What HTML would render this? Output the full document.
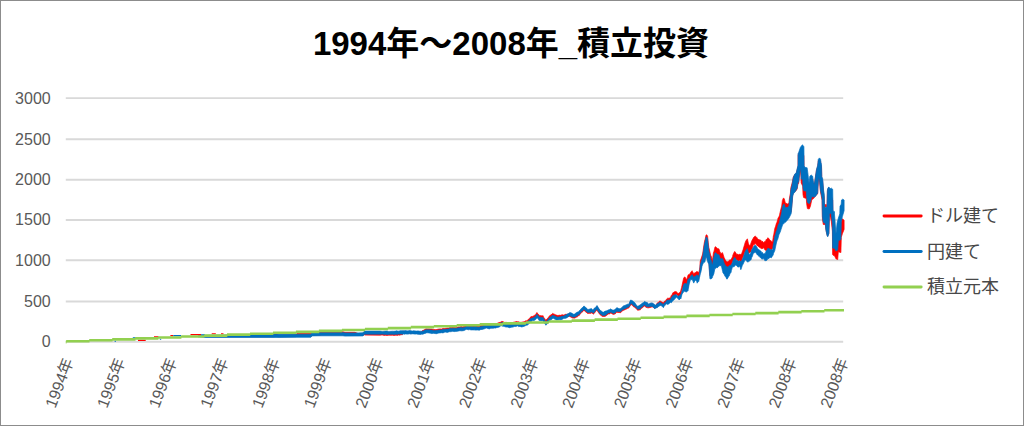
<!DOCTYPE html>
<html lang="ja">
<head>
<meta charset="utf-8">
<title>1994年～2008年_積立投資</title>
<style>
html,body{margin:0;padding:0;background:#fff;font-family:"Liberation Sans",sans-serif;}
body{width:1024px;height:426px;overflow:hidden;}
svg{display:block;}
</style>
</head>
<body>
<svg width="1024" height="426" viewBox="0 0 1024 426" role="img" aria-label="1994年～2008年_積立投資">
<title>1994年～2008年_積立投資</title>
<rect x="0" y="0" width="1024" height="426" fill="#fff"/>
<path d="M65.8 341.80H843.2M65.8 301.45H843.2M65.8 260.20H843.2M65.8 219.95H843.2M65.8 179.70H843.2M65.8 139.30H843.2M65.8 98.15H843.2" stroke="#D9D9D9" stroke-width="1.90" fill="none"/>
<g aria-label="ドル建て">
<path d="M198.0 336.5L200.0 336.1L206.0 335.9L274.0 334.9L275.0 333.4L277.0 333.4L278.0 334.9L280.0 334.9L296.0 334.8L297.0 333.3L310.0 333.3L311.0 333.4L312.0 332.2L320.0 332.2L321.0 331.8L342.0 331.8L343.0 331.8L345.0 332.3L355.0 332.3L358.0 333.5L363.0 333.4L364.5 331.7L365.0 332.0L380.0 332.1L381.4 332.2L382.8 332.4L384.2 332.1L385.6 332.0L387.0 332.0L388.4 332.3L389.8 332.4L391.2 332.2L392.6 332.2L394.0 332.3L395.4 332.1L396.8 331.8L397.6 332.1L398.2 332.2L399.6 331.9L400.0 331.7L401.0 331.6L402.4 331.3L403.8 331.3L405.0 331.4L405.2 331.2L406.6 331.4L408.0 331.5L409.4 331.2L410.8 331.3L412.2 331.7L413.6 331.4L415.0 331.5L416.4 331.7L417.8 331.5L419.2 331.7L420.0 332.0L420.6 331.8L421.1 331.9L422.0 330.9L423.4 330.3L424.8 329.5L425.0 329.2L426.2 328.9L427.0 328.8L427.6 328.9L429.0 328.9L430.4 329.0L431.8 329.1L433.2 329.5L434.6 329.5L435.2 329.6L436.0 329.7L437.4 329.3L438.8 329.0L440.2 328.9L441.6 329.0L443.0 328.4L444.4 328.5L445.8 328.3L447.2 328.1L448.6 328.0L450.0 327.5L450.4 327.3L451.4 327.5L452.8 327.3L454.2 327.5L455.6 327.4L457.0 327.3L458.4 326.9L459.8 326.9L461.2 326.6L462.2 326.7L462.6 326.9L464.0 326.5L465.4 326.1L466.8 325.3L466.9 325.2L468.2 325.5L469.6 325.7L471.0 325.7L472.4 325.5L473.8 326.0L473.9 325.9L475.2 325.6L476.6 325.8L478.0 326.2L479.4 325.9L479.8 326.1L480.8 325.4L482.2 325.5L483.6 324.6L485.0 324.7L485.7 324.1L486.4 324.0L487.8 324.6L489.2 324.4L490.0 324.4L490.6 324.6L492.0 324.1L493.4 323.9L494.8 323.7L495.9 323.5L496.2 323.6L497.6 323.2L499.0 322.6L500.0 322.3L500.4 322.2L501.7 321.6L501.8 321.3L503.2 321.7L504.6 322.4L505.0 322.2L506.0 322.6L506.4 322.4L507.4 322.6L508.8 323.2L510.0 323.3L510.2 323.4L511.6 322.9L513.0 322.4L514.4 322.0L515.8 321.7L517.0 321.5L517.2 321.7L518.6 321.8L520.0 322.4L521.4 322.2L521.7 322.3L522.8 321.9L524.2 321.8L525.6 320.8L526.0 321.0L527.0 320.7L527.6 319.9L528.4 319.3L529.8 318.3L530.0 317.5L531.1 316.8L531.2 316.5L532.6 316.4L534.0 315.7L535.2 314.9L535.4 315.1L536.8 312.5L537.0 312.8L538.2 313.9L539.3 315.4L539.6 315.6L541.0 315.7L542.4 316.0L542.8 315.5L543.8 317.4L545.2 319.2L545.8 320.6L546.6 319.2L548.0 318.0L549.4 316.0L549.9 315.4L550.8 315.0L552.2 314.0L552.8 313.3L553.6 314.0L555.0 314.4L555.8 314.9L556.4 315.1L557.8 315.5L559.2 315.3L560.0 315.1L560.4 315.1L560.6 315.5L562.0 314.7L563.4 315.1L564.8 314.7L565.0 314.4L565.1 314.3L566.2 314.3L567.6 314.4L568.0 314.5L569.0 313.8L569.8 313.0L570.4 313.4L571.0 314.0L571.8 314.1L573.2 315.2L574.5 315.1L574.6 315.0L576.0 313.9L577.4 313.1L578.8 312.8L579.2 311.8L580.2 310.9L581.6 309.2L583.0 308.2L583.9 307.0L584.4 307.3L585.8 308.6L587.2 309.8L587.5 310.4L588.6 310.4L590.0 310.0L591.0 309.7L591.4 309.6L592.8 310.9L593.3 310.9L594.2 309.2L595.6 308.4L596.8 306.8L597.0 306.5L598.4 308.8L599.8 311.0L601.2 311.9L602.6 313.0L603.4 313.3L604.0 312.8L605.4 312.1L606.8 311.8L607.2 311.6L608.2 311.0L609.6 310.6L610.4 309.9L611.0 310.3L612.4 311.0L613.5 310.9L613.8 311.3L615.2 310.2L616.6 308.9L617.0 308.6L618.0 309.3L619.4 309.7L620.0 309.5L620.8 309.4L622.2 308.2L623.6 306.7L624.7 306.5L625.0 306.4L626.4 305.7L627.8 305.2L628.2 305.5L629.2 304.2L630.6 301.0L631.1 301.2L632.0 301.5L633.4 302.5L634.0 303.0L634.8 303.7L636.2 306.0L637.6 307.2L639.0 306.8L640.4 305.6L640.5 305.9L641.8 304.4L643.2 303.8L644.6 302.4L646.0 303.3L647.4 303.6L648.1 304.9L648.8 304.9L650.0 304.6L650.2 304.0L651.6 304.2L651.7 303.4L653.0 304.1L654.4 304.9L655.0 305.5L655.2 305.6L655.8 305.5L657.2 303.1L658.6 302.3L659.9 300.8L660.0 301.2L661.4 301.7L662.8 302.6L663.4 303.0L664.2 301.5L665.6 300.7L666.7 298.9L667.6 298.2L669.1 298.3L670.5 297.4L671.4 295.3L672.0 294.7L673.0 292.5L673.4 292.5L674.9 291.6L675.3 291.5L676.3 291.7L677.7 293.0L677.8 294.0L679.2 292.8L680.0 292.4L680.7 291.0L681.6 287.5L682.1 285.1L683.6 278.3L683.9 277.6L685.0 276.9L685.5 277.9L686.5 279.4L686.6 280.3L687.9 275.5L688.2 274.8L689.4 274.5L690.2 273.2L690.8 272.2L692.1 270.7L692.3 271.2L693.7 273.7L695.2 272.6L695.6 272.5L696.6 271.5L697.2 271.8L698.1 271.8L698.8 273.3L699.5 269.4L699.9 267.0L700.2 261.5L701.0 258.9L702.4 254.8L702.5 255.0L703.9 245.3L704.5 241.6L705.3 238.6L706.0 235.1L706.8 234.8L707.6 236.2L708.2 242.2L708.8 247.3L709.7 251.0L710.7 255.6L711.1 255.8L712.3 260.7L712.6 259.4L713.4 253.0L714.0 251.2L715.0 246.9L715.5 246.7L716.9 247.9L717.0 248.6L718.4 248.8L718.9 248.8L719.8 251.6L720.9 253.4L721.3 253.4L722.4 252.6L722.7 253.2L724.2 257.8L724.4 258.0L725.6 260.8L725.9 260.6L727.1 261.9L728.3 261.6L728.5 261.0L730.0 259.8L730.6 260.1L731.4 259.0L732.6 256.5L732.9 255.0L734.3 251.9L734.9 251.4L735.8 253.0L736.9 254.6L737.2 254.1L738.7 254.8L739.2 254.3L740.1 254.2L740.8 254.6L741.6 253.7L743.0 249.9L743.1 249.6L744.5 244.8L745.1 242.7L745.9 240.8L747.4 238.8L748.6 244.5L748.8 244.3L749.8 245.9L750.3 244.9L750.6 244.2L751.7 241.1L751.8 240.8L753.2 238.3L753.5 237.6L754.6 236.4L755.3 236.2L756.1 236.7L756.8 237.4L757.5 238.7L758.2 239.0L759.0 240.1L759.4 239.8L760.4 240.1L760.9 240.2L761.9 241.9L762.3 241.1L763.3 242.5L764.1 242.2L764.8 241.4L765.3 242.1L766.2 239.4L766.4 239.5L767.6 238.3L767.7 237.8L769.1 238.7L769.4 239.4L770.6 240.6L771.1 240.9L772.0 241.7L772.6 241.7L773.4 235.8L773.5 236.3L774.4 230.6L774.9 228.1L775.6 226.2L776.3 223.7L776.4 224.1L777.8 219.3L777.9 218.4L779.3 216.0L779.6 214.6L780.7 209.8L781.7 206.1L782.4 200.4L783.5 197.9L784.4 199.1L785.3 203.0L787.6 203.9L788.9 203.3L789.5 197.9L790.4 193.2L790.7 189.4L791.0 187.1L791.9 184.0L792.5 181.2L793.3 177.1L794.8 174.5L796.3 173.3L797.2 169.5L798.0 166.5L798.1 154.8L798.6 154.1L799.5 151.8L800.4 150.2L802.4 152.2L803.3 154.6L803.9 155.9L804.1 174.1L804.8 175.7L806.8 175.8L807.1 175.6L808.0 181.3L808.6 186.8L809.1 190.4L809.8 182.3L811.2 179.5L812.7 179.0L813.0 182.3L814.2 185.6L815.1 179.9L815.4 177.6L816.5 170.0L817.7 166.3L818.0 163.4L818.3 160.6L819.5 159.6L820.6 161.4L820.9 164.5L821.5 166.8L821.8 179.1L822.7 181.6L823.6 193.2L824.2 196.9L824.6 209.1L827.0 207.8L827.4 190.9L828.0 188.4L828.9 187.6L830.0 192.9L831.5 196.5L832.7 200.1L833.0 219.9L833.9 223.4L834.2 221.8L835.0 230.2L835.9 243.7L837.1 234.7L838.3 231.9L839.8 229.2L840.0 222.8L841.2 222.1L841.5 218.7L842.7 218.9L844.1 220.3L844.1 229.4L842.4 233.7L841.3 237.3L840.9 252.6L838.3 251.8L837.7 259.6L835.9 258.8L834.7 256.0L833.2 255.3L832.7 254.7L832.6 254.6L832.4 231.0L831.2 220.5L830.3 217.1L829.4 215.5L828.9 233.1L827.7 236.2L827.1 235.1L825.9 229.5L825.3 224.4L823.3 224.5L822.4 218.6L822.1 200.4L821.2 195.5L820.4 191.3L819.6 182.1L818.6 178.3L817.9 188.5L817.7 193.8L815.4 195.9L813.6 198.5L811.8 199.7L810.4 206.3L809.2 209.0L807.4 208.6L806.6 203.4L806.3 198.5L803.6 197.5L803.0 194.6L802.7 186.1L801.2 183.0L801.0 177.1L800.4 169.7L799.3 177.0L798.6 183.5L798.0 183.3L797.2 188.8L796.3 190.4L794.8 191.8L793.4 193.1L792.7 195.3L792.1 202.5L791.2 211.7L790.4 213.1L788.9 215.4L786.0 218.3L784.5 218.2L782.6 219.2L780.8 224.0L780.7 224.6L779.3 227.7L778.9 228.3L777.8 232.5L777.0 234.0L776.4 236.1L775.1 242.1L774.9 243.4L773.5 246.3L773.2 247.6L772.0 249.1L771.4 250.0L770.6 249.2L769.1 249.0L769.0 249.7L767.7 249.1L767.0 250.4L766.2 250.5L764.8 249.9L764.6 249.1L763.3 247.8L761.9 249.0L761.0 247.7L760.4 248.1L759.0 246.9L757.5 245.8L757.3 245.9L756.5 245.0L756.1 244.3L755.0 243.3L754.6 244.5L753.5 244.7L753.2 245.3L752.3 248.2L751.7 249.3L750.9 252.0L750.3 252.0L748.8 253.4L748.2 253.6L747.4 253.8L745.9 251.6L744.7 252.0L744.5 253.1L743.0 257.0L742.3 258.5L741.6 261.0L740.8 263.4L740.1 260.9L739.6 259.9L738.7 260.9L737.7 261.2L737.2 260.1L735.8 259.4L735.3 259.8L734.3 261.3L732.9 261.6L732.6 261.2L731.4 265.6L731.0 267.6L730.0 269.0L729.1 271.7L728.5 272.1L727.1 274.8L726.7 274.6L725.6 271.9L725.2 272.1L724.2 269.9L722.8 267.6L722.7 266.9L721.3 260.3L719.8 260.8L719.3 260.4L718.4 261.7L717.0 263.0L716.9 262.3L715.5 263.7L715.0 262.9L714.0 268.4L713.8 269.6L712.6 272.6L712.3 273.9L711.1 275.6L709.9 275.9L709.7 272.7L708.8 260.9L708.2 260.7L706.8 256.7L706.2 254.1L705.7 256.0L705.3 257.1L704.9 260.1L703.9 259.9L703.4 260.4L702.4 262.0L701.9 263.7L701.0 268.5L700.4 270.3L699.5 274.3L698.9 277.7L698.8 278.4L698.1 278.5L697.2 280.1L696.6 278.0L695.6 277.0L695.2 276.9L693.7 279.8L692.5 276.5L692.3 276.2L690.8 275.8L690.2 277.1L689.4 279.8L689.0 281.5L687.9 287.6L687.8 287.2L686.5 288.1L686.3 288.0L685.0 286.0L683.9 284.9L683.6 286.2L682.3 288.7L682.1 289.0L680.8 295.3L680.7 294.5L679.2 297.4L677.8 295.5L676.9 294.7L676.3 294.3L674.9 295.7L673.8 297.4L673.4 297.8L672.0 299.7L671.4 300.8L670.5 300.3L669.1 302.0L667.6 303.0L666.7 302.1L665.6 303.1L664.2 304.7L663.4 306.3L662.8 305.7L661.4 304.4L660.0 304.1L659.9 304.5L658.6 305.7L657.2 307.1L655.8 307.3L655.2 307.9L655.0 308.4L654.4 307.9L653.0 307.1L651.7 306.9L651.6 307.1L650.2 307.4L650.0 307.3L648.8 308.0L648.1 307.5L647.4 307.8L646.0 307.3L644.6 306.0L643.2 307.0L641.8 308.3L640.5 308.8L640.4 309.8L639.0 310.0L637.6 310.3L636.2 308.5L634.8 307.5L634.0 306.8L633.4 306.7L632.0 304.7L631.1 304.8L630.6 304.9L629.2 307.5L628.2 308.2L627.8 308.2L626.4 309.1L625.0 309.4L624.7 309.9L623.6 310.3L622.2 311.1L620.8 312.4L620.0 313.0L619.4 312.5L618.0 312.5L617.0 312.2L616.6 312.2L615.2 313.9L613.8 314.2L613.5 314.5L612.4 314.0L611.0 313.1L610.4 313.3L609.6 313.9L608.2 313.9L607.2 315.1L606.8 315.2L605.4 316.2L604.0 316.5L603.4 316.5L602.6 316.5L601.2 315.6L599.8 314.4L598.4 312.5L597.0 310.3L596.8 310.3L595.6 311.5L594.2 313.4L593.3 314.2L592.8 313.5L591.4 312.9L591.0 313.3L590.0 313.3L588.6 313.4L587.5 313.4L587.2 312.9L585.8 312.0L584.4 310.7L583.9 310.5L583.0 311.4L581.6 312.6L580.2 314.0L579.2 315.6L578.8 315.5L577.4 316.8L576.0 317.3L574.6 318.2L574.5 318.1L573.2 318.1L571.8 317.8L571.0 317.0L570.4 317.1L569.8 316.2L569.0 316.5L568.0 316.4L567.6 316.7L566.2 317.5L565.1 317.5L565.0 317.8L564.8 317.5L563.4 317.5L562.0 318.1L560.6 318.4L560.4 318.0L560.0 318.0L559.2 318.1L557.8 318.2L556.4 318.2L555.8 318.1L555.0 317.6L553.6 316.8L552.8 316.2L552.2 317.4L550.8 318.0L549.9 319.1L549.4 319.7L548.0 321.3L546.6 322.9L545.8 323.5L545.2 322.3L543.8 320.6L542.8 319.2L542.4 318.7L541.0 319.2L539.6 318.6L539.3 319.1L538.2 317.1L537.0 316.1L536.8 316.4L535.4 318.1L535.2 318.2L534.0 318.7L532.6 318.9L531.2 319.7L531.1 319.7L530.0 320.8L529.8 321.3L528.4 322.4L527.6 323.6L527.0 323.8L526.0 323.7L525.6 324.3L524.2 325.0L522.8 325.3L521.7 325.5L521.4 325.6L520.0 325.0L518.6 325.2L517.2 324.4L517.0 324.8L515.8 325.1L514.4 325.2L513.0 325.7L511.6 325.9L510.2 326.2L510.0 326.5L508.8 326.1L507.4 325.8L506.4 325.8L506.0 325.8L505.0 325.4L504.6 325.4L503.2 325.0L501.8 325.0L501.7 324.5L500.4 324.9L500.0 325.5L499.0 326.1L497.6 326.5L496.2 326.7L495.9 327.1L494.8 326.9L493.4 327.2L492.0 327.2L490.6 327.3L490.0 327.8L489.2 327.8L487.8 327.5L486.4 327.0L485.7 327.3L485.0 327.6L483.6 328.1L482.2 328.5L480.8 328.6L479.8 328.9L479.4 329.3L478.0 329.0L476.6 329.2L475.2 329.1L473.9 328.9L473.8 329.0L472.4 328.9L471.0 328.9L469.6 328.6L468.2 328.8L466.9 328.3L466.8 328.4L465.4 328.9L464.0 329.6L462.6 329.8L462.2 330.0L461.2 329.8L459.8 329.8L458.4 330.1L457.0 330.4L455.6 330.5L454.2 330.7L452.8 330.3L451.4 330.7L450.4 330.8L450.0 330.6L448.6 331.0L447.2 331.4L445.8 331.2L444.4 331.4L443.0 332.0L441.6 331.8L440.2 332.0L438.8 332.1L437.4 332.5L436.0 332.9L435.2 332.5L434.6 332.6L433.2 332.4L431.8 332.6L430.4 332.3L429.0 332.0L427.6 331.9L427.0 331.9L426.2 332.0L425.0 332.6L424.8 332.6L423.4 333.3L422.0 333.7L421.1 333.5L420.6 333.8L420.0 333.8L419.2 333.7L417.8 333.6L416.4 333.4L415.0 333.5L413.6 333.3L412.2 333.2L410.8 333.5L409.4 333.2L408.0 333.5L406.6 333.5L405.2 333.3L405.0 333.6L403.8 333.3L402.4 334.7L401.0 334.7L400.0 335.1L399.6 335.2L398.2 335.0L397.6 335.4L396.8 335.3L395.4 335.3L394.0 335.4L392.6 335.2L391.2 335.3L389.8 335.2L388.4 335.3L387.0 335.4L385.6 335.3L384.2 335.4L382.8 335.1L381.4 335.1L380.0 335.2L365.0 335.1L364.5 334.8L363.0 335.3L358.0 335.4L355.0 335.4L345.0 335.4L343.0 334.9L342.0 334.9L321.0 334.9L320.0 335.2L312.0 335.2L311.0 336.6L310.0 336.4L297.0 336.4L296.0 336.7L280.0 336.8L278.0 336.8L277.0 336.5L275.0 336.5L274.0 336.8L206.0 336.8L200.0 336.4L198.0 336.1Z" fill="#FF0000" stroke="#FF0000" stroke-width="0.70" stroke-linejoin="round"/>
<path d="M825.1 204.6L826.5 204.6L826.5 207.0L825.1 207.0Z" fill="#FF0000" stroke="#FF0000" stroke-width="0.50" stroke-linejoin="round"/>
<path d="M813.9 183.2L814.6 183.2L814.6 185.0L813.9 185.0Z" fill="#FF0000" stroke="#FF0000" stroke-width="0.50" stroke-linejoin="round"/>
</g>
<g aria-label="円建て">
<path d="M198.0 335.9L200.0 335.5L206.0 335.3L274.0 334.3L275.0 334.3L277.0 334.3L278.0 334.3L280.0 334.2L296.0 334.2L297.0 334.2L310.0 334.2L311.0 334.1L312.0 332.8L320.0 332.7L321.0 332.7L342.0 332.7L343.0 332.6L345.0 332.9L355.0 332.9L358.0 332.9L363.0 332.8L364.5 331.1L365.0 331.1L380.0 331.1L381.4 331.3L382.8 331.4L384.2 331.2L385.6 331.1L387.0 331.0L388.4 331.4L389.8 331.4L391.2 331.3L392.6 331.2L394.0 331.3L395.4 331.1L396.8 330.8L397.6 331.1L398.2 331.2L399.6 330.9L400.0 330.7L401.0 330.8L402.4 330.7L403.8 330.7L405.0 330.8L405.2 330.6L406.6 330.8L408.0 330.9L409.4 330.6L410.8 330.7L412.2 331.1L413.6 330.8L415.0 330.9L416.4 331.1L417.8 330.9L419.2 331.1L420.0 331.4L420.6 331.2L421.1 331.3L422.0 331.2L423.4 330.9L424.8 330.3L425.0 330.1L426.2 329.8L427.0 329.7L427.6 329.8L429.0 329.8L430.4 329.9L431.8 330.0L433.2 330.4L434.6 330.4L435.2 330.5L436.0 330.6L437.4 330.3L438.8 329.9L440.2 329.9L441.6 329.9L443.0 329.3L444.4 329.4L445.8 329.3L447.2 329.0L448.6 329.0L450.0 328.4L450.4 328.3L451.4 328.4L452.8 328.2L454.2 328.4L455.6 328.3L457.0 328.2L458.4 327.8L459.8 327.8L461.2 327.5L462.2 327.6L462.6 327.9L464.0 327.5L465.4 327.1L466.8 326.2L466.9 326.2L468.2 326.5L469.6 326.7L471.0 326.7L472.4 326.4L473.8 327.0L473.9 326.9L475.2 326.6L476.6 326.7L478.0 327.2L479.4 326.9L479.8 327.1L480.8 326.4L482.2 326.5L483.6 325.6L485.0 325.7L485.7 325.1L486.4 325.0L487.8 325.6L489.2 325.4L490.0 325.4L490.6 325.6L492.0 325.1L493.4 324.9L494.8 324.7L495.9 324.5L496.2 324.6L497.6 324.2L499.0 323.6L500.0 323.3L500.4 323.2L501.7 322.7L501.8 322.4L503.2 322.9L504.6 323.6L505.0 323.5L506.0 323.9L506.4 323.7L507.4 324.0L508.8 324.5L510.0 324.6L510.2 324.8L511.6 324.2L513.0 323.8L514.4 323.4L515.8 323.0L517.0 322.9L517.2 323.1L518.6 323.2L520.0 323.7L521.4 323.6L521.7 323.7L522.8 323.2L524.2 323.2L525.6 322.2L526.0 322.4L527.0 322.2L527.6 321.5L528.4 320.8L529.8 320.0L530.0 319.2L531.1 318.5L531.2 318.2L532.6 318.1L534.0 317.4L535.2 316.6L535.4 316.8L536.8 314.2L537.0 314.5L538.2 315.6L539.3 317.1L539.6 317.3L541.0 317.4L542.4 317.7L542.8 317.2L543.8 319.1L545.2 320.9L545.8 322.3L546.6 320.9L548.0 319.7L549.4 317.7L549.9 317.1L550.8 316.7L552.2 315.7L552.8 315.0L553.6 315.7L555.0 316.1L555.8 316.6L556.4 316.8L557.8 317.2L559.2 317.0L560.0 316.8L560.4 316.7L560.6 317.1L562.0 316.1L563.4 316.2L564.8 315.5L565.0 315.2L565.1 315.1L566.2 314.8L567.6 313.8L568.0 313.9L569.0 313.2L569.8 312.4L570.4 312.6L571.0 313.0L571.8 313.1L573.2 314.2L574.5 314.1L574.6 314.0L576.0 312.9L577.4 312.1L578.8 311.8L579.2 310.8L580.2 309.9L581.6 308.2L583.0 307.2L583.9 306.0L584.4 306.3L585.8 307.6L587.2 308.8L587.5 309.4L588.6 309.4L590.0 309.0L591.0 308.7L591.4 308.6L592.8 309.9L593.3 309.9L594.2 308.2L595.6 307.4L596.8 305.8L597.0 305.5L598.4 307.8L599.8 310.0L601.2 310.9L602.6 312.0L603.4 312.3L604.0 311.8L605.4 311.1L606.8 310.8L607.2 310.6L608.2 310.0L609.6 309.6L610.4 308.9L611.0 309.3L612.4 310.0L613.5 309.9L613.8 310.3L615.2 309.2L616.6 307.9L617.0 307.6L618.0 308.3L619.4 308.7L620.0 308.5L620.8 308.4L622.2 307.2L623.6 305.7L624.7 305.5L625.0 305.4L626.4 304.7L627.8 304.2L628.2 304.5L629.2 303.2L630.6 300.0L631.1 300.2L632.0 300.5L633.4 301.5L634.0 302.0L634.8 302.7L636.2 305.0L637.6 306.2L639.0 305.8L640.4 304.6L640.5 304.9L641.8 303.4L643.2 302.8L644.6 301.4L646.0 302.3L647.4 302.6L648.1 303.9L648.8 303.9L650.0 303.6L650.2 303.0L651.6 303.5L651.7 302.7L653.0 303.5L654.4 304.3L655.0 304.9L655.2 305.0L655.8 304.9L657.2 303.7L658.6 303.2L659.9 301.9L660.0 302.4L661.4 303.0L662.8 304.0L663.4 304.4L664.2 303.0L665.6 302.2L666.7 300.5L667.6 300.0L669.1 300.2L670.5 299.4L671.4 297.5L672.0 297.1L673.0 295.3L673.4 295.4L674.9 294.8L675.3 294.8L676.3 294.8L677.7 296.0L677.8 296.8L679.2 295.6L680.0 295.2L680.7 294.7L681.6 292.5L682.1 290.5L683.6 284.8L683.9 284.3L685.0 283.2L685.5 283.6L686.5 284.0L686.6 284.7L687.9 279.6L688.2 279.0L689.4 278.4L690.2 277.1L690.8 276.1L692.1 274.6L692.3 275.0L693.7 277.3L695.2 276.2L695.6 276.0L696.6 275.1L697.2 275.3L698.1 275.3L698.8 276.7L699.5 272.9L699.9 270.5L700.2 265.2L701.0 262.4L702.4 258.0L702.5 258.1L703.9 248.2L704.5 244.3L705.3 240.9L706.0 237.2L706.8 237.3L707.6 239.1L708.2 245.2L708.8 250.5L709.7 254.7L710.7 259.7L711.1 260.2L712.3 265.3L712.6 264.2L713.4 258.3L714.0 256.7L715.0 252.9L715.5 252.7L716.9 253.8L717.0 254.5L718.4 254.7L718.9 254.7L719.8 257.4L720.9 259.1L721.3 259.0L722.4 258.3L722.7 258.9L724.2 263.2L724.4 263.4L725.6 266.0L725.9 265.8L727.1 267.1L728.3 266.8L728.5 266.3L730.0 265.2L730.6 265.4L731.4 264.4L732.6 262.1L732.9 260.7L734.3 257.8L734.9 257.4L735.8 259.1L736.9 260.8L737.2 260.4L738.7 261.3L739.2 261.0L740.1 261.1L740.8 261.6L741.6 261.0L743.0 257.8L743.1 257.5L744.5 253.5L745.1 251.7L745.9 250.2L747.4 248.6L748.6 253.6L748.8 253.4L749.8 254.7L750.3 253.7L750.6 253.0L751.7 250.1L751.8 249.8L753.2 247.4L753.5 246.7L754.6 245.4L755.3 245.3L756.1 246.1L756.8 247.0L757.5 248.4L758.2 248.9L759.0 250.2L759.4 250.1L760.4 250.8L760.9 251.0L761.9 252.9L762.3 252.3L763.3 253.9L764.1 253.9L764.8 253.2L765.3 253.6L766.2 250.7L766.4 250.8L767.6 249.0L767.7 248.5L769.1 248.6L769.4 249.0L770.6 249.6L771.1 249.6L772.0 250.0L772.6 249.7L773.4 243.9L773.5 244.4L774.4 238.7L774.9 236.1L775.6 233.9L776.3 231.3L776.4 231.7L777.8 226.7L777.9 225.8L779.3 223.0L779.6 221.6L780.7 216.6L781.7 212.8L782.4 207.0L783.5 204.2L784.4 204.5L785.3 207.7L787.6 207.3L788.9 206.3L789.5 200.8L790.4 195.8L790.7 191.8L791.0 189.3L791.9 185.7L792.5 182.3L793.3 177.7L794.8 173.9L796.3 172.7L797.2 168.5L798.0 165.3L798.1 153.5L798.6 152.7L799.5 150.0L800.4 147.3L802.4 144.8L803.3 145.7L803.9 146.8L804.1 165.8L804.8 167.3L806.8 167.7L807.1 167.7L808.0 174.2L808.6 180.3L809.1 184.3L809.8 176.3L811.2 175.0L812.7 176.3L813.0 180.0L814.2 184.8L815.1 179.3L815.4 177.0L816.5 169.4L817.7 165.3L818.0 162.3L818.3 159.3L819.5 157.9L820.6 159.3L820.9 162.3L821.5 164.4L821.8 176.7L822.7 178.8L823.6 190.3L824.2 194.2L824.6 207.2L827.0 207.2L827.4 190.3L828.0 187.8L828.9 187.0L830.0 188.8L831.5 188.2L832.7 189.3L833.0 210.0L833.9 213.3L834.2 211.3L835.0 220.2L835.9 234.3L837.1 223.0L838.3 218.3L839.8 213.8L840.0 206.3L841.2 204.2L841.5 200.0L842.7 199.2L844.1 200.0L844.1 210.7L842.4 216.6L841.3 221.7L840.9 239.6L838.3 240.7L837.7 250.1L835.9 251.0L834.7 248.3L833.2 248.2L832.7 248.1L832.6 248.1L832.4 223.1L831.2 214.2L830.3 212.7L829.4 214.2L828.9 233.7L827.7 236.8L827.1 235.7L825.9 230.1L825.3 223.6L823.3 222.3L822.4 216.6L822.1 198.2L821.2 193.6L820.4 189.7L819.6 180.7L818.6 177.2L817.9 187.7L817.7 193.0L815.4 196.5L813.6 197.1L811.8 196.5L810.4 201.8L809.2 203.8L807.4 202.3L806.6 196.5L806.3 191.2L803.6 190.6L803.0 187.7L802.7 179.3L801.2 179.1L801.0 173.5L800.4 167.2L799.3 175.6L798.6 182.2L798.0 182.2L797.2 188.0L796.3 189.8L794.8 192.3L793.4 193.7L792.7 196.2L792.1 203.8L791.2 213.5L790.4 215.3L788.9 218.2L786.0 221.8L784.5 222.8L782.6 224.8L780.8 230.1L780.7 230.7L779.3 234.1L778.9 234.8L777.8 239.1L777.0 240.8L776.4 242.9L775.1 249.0L774.9 250.3L773.5 253.5L773.2 254.9L772.0 256.7L771.4 257.8L770.6 257.4L769.1 257.9L769.0 258.5L767.7 258.7L767.0 260.2L766.2 260.6L764.8 260.7L764.6 260.1L763.3 258.5L761.9 259.2L761.0 257.7L760.4 257.8L759.0 256.3L757.5 254.9L757.3 254.9L756.5 253.8L756.1 253.0L755.0 251.7L754.6 252.8L753.5 253.2L753.2 253.7L752.3 256.5L751.7 257.5L750.9 260.1L750.3 260.2L748.8 261.6L748.2 261.8L747.4 262.1L745.9 260.0L744.7 260.0L744.5 261.0L743.0 264.3L742.3 265.5L741.6 267.7L740.8 269.7L740.1 267.2L739.6 266.2L738.7 267.0L737.7 267.0L737.2 266.0L735.8 265.0L735.3 265.3L734.3 266.6L732.9 266.9L732.6 266.5L731.4 270.6L731.0 272.5L730.0 273.7L729.1 276.2L728.5 276.7L727.1 279.2L726.7 279.0L725.6 276.4L725.2 276.6L724.2 274.5L722.8 272.4L722.7 271.7L721.3 265.5L719.8 265.9L719.3 265.6L718.4 266.8L717.0 268.0L716.9 267.3L715.5 268.6L715.0 267.8L714.0 272.9L713.8 273.9L712.6 276.6L712.3 277.8L711.1 279.0L709.9 278.7L709.7 275.6L708.8 263.7L708.2 263.2L706.8 258.7L706.2 255.9L705.7 257.8L705.3 259.1L704.9 262.1L703.9 262.3L703.4 263.0L702.4 265.0L701.9 266.7L701.0 271.7L700.4 273.5L699.5 277.6L698.9 280.8L698.8 281.5L698.1 281.6L697.2 283.2L696.6 281.3L695.6 280.3L695.2 280.2L693.7 283.1L692.5 280.0L692.3 279.8L690.8 279.5L690.2 280.7L689.4 283.4L689.0 285.1L687.9 291.0L687.8 290.7L686.5 292.1L686.3 292.1L685.0 291.4L683.9 290.9L683.6 291.9L682.3 293.8L682.1 293.9L680.8 298.8L680.7 297.9L679.2 300.0L677.8 298.3L676.9 297.6L676.3 297.3L674.9 298.7L673.8 300.1L673.4 300.3L672.0 301.8L671.4 302.7L670.5 302.2L669.1 303.7L667.6 304.5L666.7 303.7L665.6 304.7L664.2 306.1L663.4 307.7L662.8 307.1L661.4 305.7L660.0 305.3L659.9 305.7L658.6 306.5L657.2 307.7L655.8 307.9L655.2 308.5L655.0 309.0L654.4 308.5L653.0 306.7L651.7 306.2L651.6 306.4L650.2 306.4L650.0 306.3L648.8 307.0L648.1 306.5L647.4 306.8L646.0 306.3L644.6 305.0L643.2 306.0L641.8 307.3L640.5 307.8L640.4 308.8L639.0 309.0L637.6 309.3L636.2 307.5L634.8 306.5L634.0 305.8L633.4 305.7L632.0 303.7L631.1 303.8L630.6 303.9L629.2 306.5L628.2 307.2L627.8 307.2L626.4 308.1L625.0 308.4L624.7 308.9L623.6 309.3L622.2 310.1L620.8 311.4L620.0 312.0L619.4 311.5L618.0 311.5L617.0 311.2L616.6 311.2L615.2 312.9L613.8 313.2L613.5 313.5L612.4 313.0L611.0 312.1L610.4 312.3L609.6 312.9L608.2 312.9L607.2 314.1L606.8 314.2L605.4 315.2L604.0 315.5L603.4 315.5L602.6 315.5L601.2 314.6L599.8 313.4L598.4 311.5L597.0 309.3L596.8 309.3L595.6 310.5L594.2 312.4L593.3 313.2L592.8 312.5L591.4 311.9L591.0 312.3L590.0 312.3L588.6 312.4L587.5 312.4L587.2 311.9L585.8 311.0L584.4 309.7L583.9 309.5L583.0 310.4L581.6 311.6L580.2 313.0L579.2 314.6L578.8 314.5L577.4 315.8L576.0 316.3L574.6 317.2L574.5 317.1L573.2 317.1L571.8 316.8L571.0 316.0L570.4 316.3L569.8 315.6L569.0 316.2L568.0 317.0L567.6 317.3L566.2 318.1L565.1 318.3L565.0 318.6L564.8 318.3L563.4 318.6L562.0 319.4L560.6 320.0L560.4 319.7L560.0 319.7L559.2 319.8L557.8 319.9L556.4 319.9L555.8 319.8L555.0 319.3L553.6 318.5L552.8 317.9L552.2 319.1L550.8 319.7L549.9 320.8L549.4 321.4L548.0 323.0L546.6 324.6L545.8 325.2L545.2 324.0L543.8 322.3L542.8 320.9L542.4 320.4L541.0 320.9L539.6 320.3L539.3 320.8L538.2 318.8L537.0 317.8L536.8 318.1L535.4 319.8L535.2 319.9L534.0 320.4L532.6 320.6L531.2 321.4L531.1 321.4L530.0 322.5L529.8 323.0L528.4 324.0L527.6 325.1L527.0 325.3L526.0 325.1L525.6 325.7L524.2 326.3L522.8 326.7L521.7 326.9L521.4 326.9L520.0 326.4L518.6 326.6L517.2 325.7L517.0 326.1L515.8 326.5L514.4 326.5L513.0 327.0L511.6 327.2L510.2 327.6L510.0 327.8L508.8 327.5L507.4 327.1L506.4 327.1L506.0 327.1L505.0 326.7L504.6 326.6L503.2 326.2L501.8 326.1L501.7 325.6L500.4 326.0L500.0 326.5L499.0 327.1L497.6 327.5L496.2 327.7L495.9 328.1L494.8 327.9L493.4 328.2L492.0 328.2L490.6 328.3L490.0 328.8L489.2 328.8L487.8 328.5L486.4 328.0L485.7 328.3L485.0 328.6L483.6 329.1L482.2 329.5L480.8 329.5L479.8 329.9L479.4 330.3L478.0 329.9L476.6 330.1L475.2 330.1L473.9 329.8L473.8 330.0L472.4 329.9L471.0 329.9L469.6 329.6L468.2 329.8L466.9 329.3L466.8 329.3L465.4 329.8L464.0 330.6L462.6 330.7L462.2 331.0L461.2 330.8L459.8 330.7L458.4 331.1L457.0 331.3L455.6 331.4L454.2 331.6L452.8 331.3L451.4 331.6L450.4 331.7L450.0 331.5L448.6 332.0L447.2 332.4L445.8 332.1L444.4 332.3L443.0 332.9L441.6 332.7L440.2 332.9L438.8 333.0L437.4 333.4L436.0 333.8L435.2 333.5L434.6 333.5L433.2 333.3L431.8 333.6L430.4 333.2L429.0 332.9L427.6 332.8L427.0 332.8L426.2 332.9L425.0 333.5L424.8 333.4L423.4 334.0L422.0 334.3L421.1 334.1L420.6 334.4L420.0 334.4L419.2 334.3L417.8 334.2L416.4 334.0L415.0 334.1L413.6 333.9L412.2 333.8L410.8 334.1L409.4 333.8L408.0 334.1L406.6 334.1L405.2 333.9L405.0 334.2L403.8 333.9L402.4 334.2L401.0 333.9L400.0 334.1L399.6 334.2L398.2 334.0L397.6 334.4L396.8 334.3L395.4 334.3L394.0 334.4L392.6 334.2L391.2 334.3L389.8 334.2L388.4 334.4L387.0 334.4L385.6 334.3L384.2 334.4L382.8 334.1L381.4 334.2L380.0 334.2L365.0 334.2L364.5 334.2L363.0 335.9L358.0 336.0L355.0 336.0L345.0 336.1L343.0 335.8L342.0 335.8L321.0 335.8L320.0 335.8L312.0 335.9L311.0 337.2L310.0 337.3L297.0 337.3L296.0 337.3L280.0 337.4L278.0 337.4L277.0 337.4L275.0 337.4L274.0 337.4L206.0 337.4L200.0 337.0L198.0 336.8Z" fill="#0070C0" stroke="#0070C0" stroke-width="0.70" stroke-linejoin="round"/>
</g>
<path d="M154.0 336.7H158.6M170.4 335.6H173.3M138.0 340.4H145.7M190.5 334.6H201.0M211.7 333.8H215.8M221.0 333.8H223.5" stroke="#FF0000" stroke-width="1.1" fill="none"/>
<path d="M132.8 337.7H135.7M173.3 335.6H181.0M114.6 341.2H116.0M159.8 339.3H161.2M201.0 334.7H205.0" stroke="#0070C0" stroke-width="1.1" fill="none"/>
<path aria-label="積立元本" d="M65.8 342.14H66.5M66.2 341.20H89.5M89.2 340.26H112.5M112.2 339.33H135.5M135.2 338.39H158.4M158.1 337.45H181.4M181.1 336.51H204.4M204.1 335.58H227.3M227.0 334.64H250.3M250.0 333.70H273.3M273.0 332.76H296.2M295.9 331.83H319.2M318.9 330.89H342.2M341.9 329.95H365.1M364.9 329.01H388.1M387.8 328.08H411.1M410.8 327.14H434.1M433.8 326.20H457.0M456.7 325.27H480.0M479.7 324.33H503.0M502.7 323.39H525.9M525.6 322.45H548.9M548.6 321.52H571.9M571.6 320.58H594.9M594.6 319.64H617.8M617.5 318.70H640.8M640.5 317.77H663.8M663.5 316.83H686.7M686.4 315.89H709.7M709.4 314.95H732.7M732.4 314.02H755.6M755.3 313.08H778.6M778.3 312.14H801.6M801.3 311.20H824.5M824.2 310.27H844.0" fill="none" stroke="#92D050" stroke-width="2.65"/>
<path d="M884.0 216.00H921.2" stroke="#FF0000" stroke-width="2.90" stroke-linecap="round" fill="none"/>
<path d="M884.0 251.50H921.2" stroke="#0070C0" stroke-width="2.90" stroke-linecap="round" fill="none"/>
<path d="M884.0 287.00H921.2" stroke="#92D050" stroke-width="2.90" stroke-linecap="round" fill="none"/>
<g font-family="'Liberation Sans', 'Noto Sans CJK JP', sans-serif" stroke="none">
<text x="511" y="55" font-size="33" font-weight="bold" text-anchor="middle" fill="#000">1994年～2008年_積立投資</text>
<g fill="#595959">
<text x="50.7" y="347.3" font-size="16" text-anchor="end">0</text>
<text x="50.7" y="306.9" font-size="16" text-anchor="end">500</text>
<text x="50.7" y="265.7" font-size="16" text-anchor="end">1000</text>
<text x="50.7" y="225.4" font-size="16" text-anchor="end">1500</text>
<text x="50.7" y="185.2" font-size="16" text-anchor="end">2000</text>
<text x="50.7" y="144.8" font-size="16" text-anchor="end">2500</text>
<text x="50.7" y="103.7" font-size="16" text-anchor="end">3000</text>
<text transform="translate(73.6 360.1) rotate(-69)" x="-0.6" y="0.5" font-size="16" text-anchor="end">1994年</text>
<text transform="translate(125.3 360.1) rotate(-69)" x="-0.6" y="0.5" font-size="16" text-anchor="end">1995年</text>
<text transform="translate(176.9 360.1) rotate(-69)" x="-0.6" y="0.5" font-size="16" text-anchor="end">1996年</text>
<text transform="translate(228.6 360.1) rotate(-69)" x="-0.6" y="0.5" font-size="16" text-anchor="end">1997年</text>
<text transform="translate(280.2 360.1) rotate(-69)" x="-0.6" y="0.5" font-size="16" text-anchor="end">1998年</text>
<text transform="translate(331.9 360.1) rotate(-69)" x="-0.6" y="0.5" font-size="16" text-anchor="end">1999年</text>
<text transform="translate(383.6 360.1) rotate(-69)" x="-0.6" y="0.5" font-size="16" text-anchor="end">2000年</text>
<text transform="translate(435.2 360.1) rotate(-69)" x="-0.6" y="0.5" font-size="16" text-anchor="end">2001年</text>
<text transform="translate(486.9 360.1) rotate(-69)" x="-0.6" y="0.5" font-size="16" text-anchor="end">2002年</text>
<text transform="translate(538.5 360.1) rotate(-69)" x="-0.6" y="0.5" font-size="16" text-anchor="end">2003年</text>
<text transform="translate(590.2 360.1) rotate(-69)" x="-0.6" y="0.5" font-size="16" text-anchor="end">2004年</text>
<text transform="translate(641.9 360.1) rotate(-69)" x="-0.6" y="0.5" font-size="16" text-anchor="end">2005年</text>
<text transform="translate(693.5 360.1) rotate(-69)" x="-0.6" y="0.5" font-size="16" text-anchor="end">2006年</text>
<text transform="translate(745.2 360.1) rotate(-69)" x="-0.6" y="0.5" font-size="16" text-anchor="end">2007年</text>
<text transform="translate(796.8 360.1) rotate(-69)" x="-0.6" y="0.5" font-size="16" text-anchor="end">2008年</text>
<text transform="translate(848.5 360.1) rotate(-69)" x="-0.6" y="0.5" font-size="16" text-anchor="end">2008年</text>
</g>
<g fill="#484848">
<text x="927" y="222.4" font-size="18">ドル建て</text>
<text x="927" y="257.9" font-size="18">円建て</text>
<text x="927" y="293.4" font-size="18">積立元本</text>
</g>
</g>
<rect x="0.5" y="0.5" width="1023" height="425" fill="none" stroke="#8C8C8C" stroke-width="1"/>
</svg>
</body>
</html>
